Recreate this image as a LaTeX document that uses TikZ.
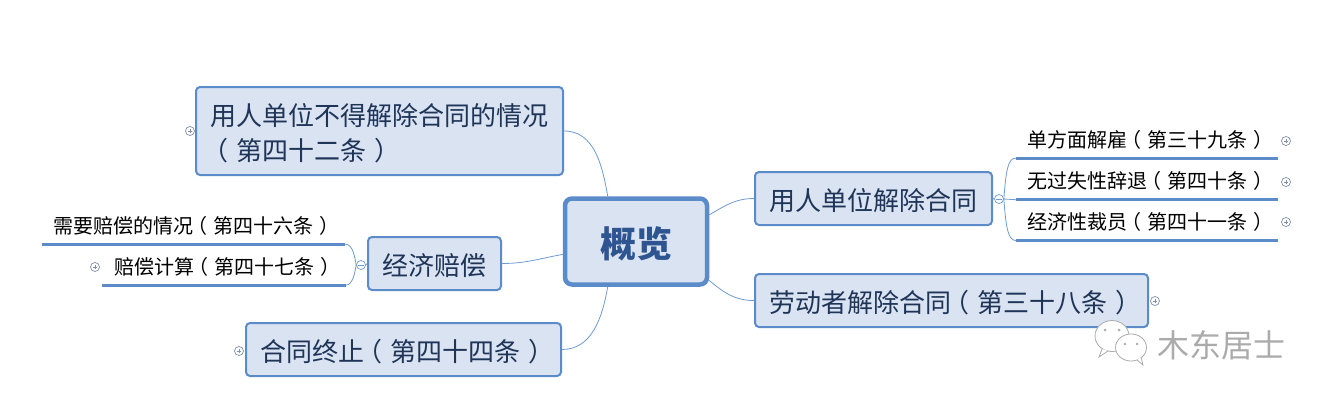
\documentclass[tikz,border=0pt]{standalone}
\usepackage{fontspec}
\setmainfont{Noto Sans CJK SC}
\newcommand{\opn}{\kern-.3em（\kern.3em}
\newcommand{\cls}{\kern.3em）\kern-.3em}
\definecolor{boxfill}{HTML}{DAE3F2}
\definecolor{boxline}{HTML}{5B8BC9}
\definecolor{boxtext}{HTML}{1F3558}
\definecolor{roottext}{HTML}{2F5590}
\definecolor{linkline}{HTML}{6F9BCF}
\definecolor{markline}{HTML}{7F8FA8}
\definecolor{marktext}{HTML}{ABABAB}

\begin{document}
\begin{tikzpicture}[x=1pt,y=-1pt]
                        \tikzstyle{topic}=[draw=boxline,fill=boxfill,text=boxtext,line width=2pt,rounded corners=4pt,inner sep=0pt,font=\fontsize{26pt}{35pt}\selectfont]
                        \tikzstyle{oneline}=[topic,text height=30pt,text depth=7pt]
                        \tikzstyle{rootbox}=[topic,line width=4.5pt,rounded corners=7pt,text=roottext,text height=40pt,text depth=7.6pt,font=\fontsize{36pt}{40pt}\selectfont\bfseries]
                        \tikzstyle{leaf}=[inner sep=0pt,minimum height=37pt,text=black,font=\fontsize{20pt}{24pt}\selectfont]
                        \tikzstyle{rule}=[boxline,line width=3pt]
                        \tikzstyle{link}=[linkline,line width=0.8pt]
                        \tikzstyle{fold}=[circle,draw=markline,fill=white,line width=0.7pt,minimum size=9pt,inner sep=0pt]
                        \tikzstyle{plus}=[fold,path picture={\draw[markline,line width=0.8pt] (path picture bounding box.center) +(-2.3pt,0) -- +(2.3pt,0) +(0,-2.3pt) -- +(0,2.3pt);}]
                        \tikzstyle{minus}=[fold,draw=linkline,path picture={\draw[linkline,line width=0.7pt] (path picture bounding box.center) +(-2.8pt,0) -- +(2.8pt,0);}]
                        \useasboundingbox (0,0) rectangle (1330,404);
                        \node[rootbox,minimum width=142pt,minimum height=86pt] (root) at (636,241.5) {概览};
                        \node[oneline,minimum width=237pt,minimum height=53pt] (employer) at (873.5,198.5) {用人单位解除合同};
                        \node[oneline,minimum width=393pt,minimum height=53pt] (worker) at (951.5,300.5) {劳动者解除合同\opn 第三十八条\cls};
                        \node[topic,minimum width=367pt,minimum height=88pt,align=left] (forbid) at (379.5,131) {\rule{0pt}{27pt}用人单位不得解除合同的情况\\\opn 第四十二条\cls};
                        \node[oneline,minimum width=133pt,minimum height=53pt] (comp) at (434.5,263.5) {经济赔偿};
                        \node[oneline,minimum width=315pt,minimum height=53pt] (endc) at (403.5,349.5) {合同终止\opn 第四十四条\cls};
                        \node[leaf,minimum width=262pt] (oneside) at (1147,139.5) {单方面解雇\opn 第三十九条\cls};
                        \node[leaf,minimum width=262pt] (nofault) at (1147,181) {无过失性辞退\opn 第四十条\cls};
                        \node[leaf,minimum width=262pt] (layoff) at (1147,222) {经济性裁员\opn 第四十一条\cls};
                        \node[leaf,minimum width=303pt] (needpay) at (193.5,225.5) {需要赔偿的情况\opn 第四十六条\cls};
                        \node[leaf,minimum width=243pt] (paycalc) at (224,266.5) {赔偿计算\opn 第四十七条\cls};
                        \node[minus] (foldr) at (999,199) {};
                        \node[minus] (foldl) at (361,265) {};
                        \node[plus] (p1) at (1286,141) {};
                        \node[plus] (p2) at (1286,182) {};
                        \node[plus] (p3) at (1286,222) {};
                        \node[plus] (p4) at (1155,301) {};
                        \node[plus] (p5) at (190,131) {};
                        \node[plus] (p6) at (95,267) {};
                        \node[plus] (p7) at (239,351) {};
                        \draw[rule] (oneside.south west) -- (oneside.south east);
                        \draw[rule] (nofault.south west) -- (nofault.south east);
                        \draw[rule] (layoff.south west) -- (layoff.south east);
                        \draw[rule] (needpay.south west) -- (needpay.south east);
                        \draw[rule] (paycalc.south west) -- (paycalc.south east);
                        \draw[link] (root.20) to[out=30,in=180] (employer.west);
                        \draw[link] (root.-28) to[out=-40,in=180] (worker.west);
                        \draw[link] (root.122) to[out=100,in=0] (forbid.east);
                        \draw[link] (root.-122) to[out=-100,in=0] (endc.east);
                        \draw[link] (root.190) to[out=190,in=0] (comp.east);
                        \draw[link] (employer.east) -- (foldr.west);
                        \draw[link] (comp.west) -- (foldl.east);
                        \draw[link] (foldr.east) -- (nofault.south west);
                        \draw[link] (foldr.east) .. controls (1006,170) and (1008,158) .. (oneside.south west);
                        \draw[link] (foldr.east) .. controls (1006,228) and (1008,240) .. (layoff.south west);
                        \draw[link] (foldl.west) .. controls (355,258) and (353,244) .. (needpay.south east);
                        \draw[link] (foldl.west) .. controls (355,272) and (353,285) .. (paycalc.south east);
                        \draw[marktext,fill=white,line width=0.8pt] (1112,336) ellipse (17pt and 15.5pt);
                        \draw[marktext,fill=white,line width=0.8pt] (1102,349) -- (1099,357) -- (1108,351);
                        \draw[marktext,fill=white,line width=0.8pt] (1131,347.5) ellipse (15.5pt and 13.5pt);
                        \draw[marktext,fill=white,line width=0.8pt] (1137,360) -- (1143,365) -- (1141,357);
                        \fill[marktext] (1105,330) circle (1.5pt) (1119,330) circle (1.5pt) (1125,344) circle (1.3pt) (1137,344) circle (1.3pt);
                        \node[inner sep=0pt,text=marktext,font=\fontsize{32pt}{36pt}\selectfont] (mark) at (1221,345) {木东居士};
                    \end{tikzpicture}
\end{document}
